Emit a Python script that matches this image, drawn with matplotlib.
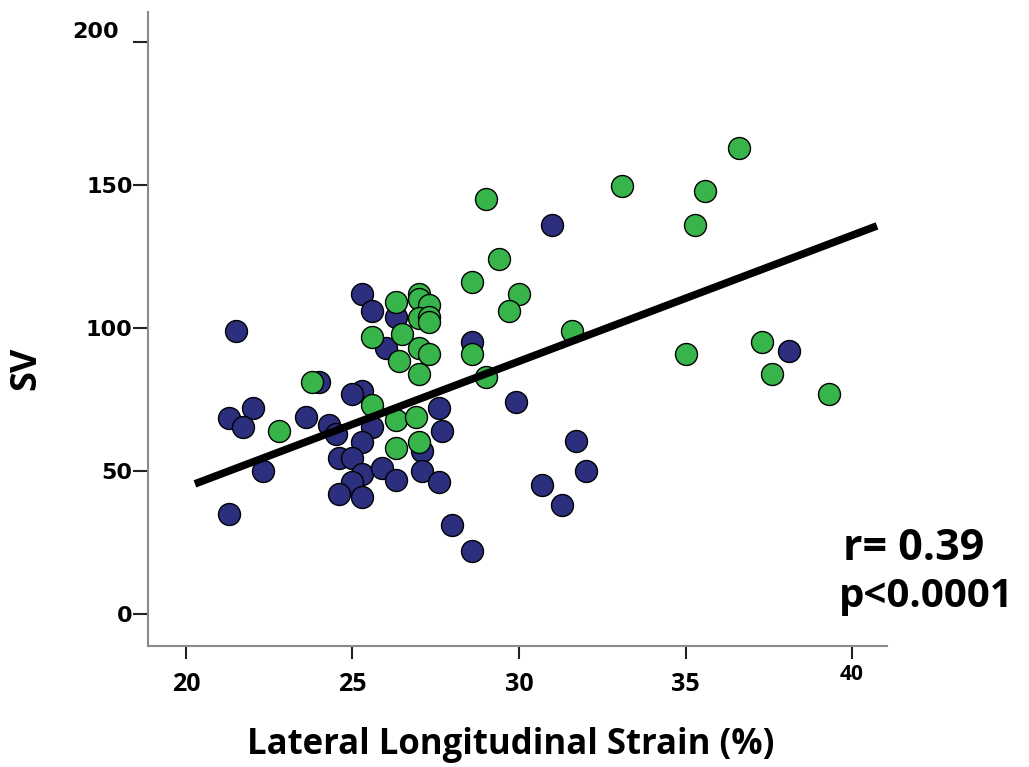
import matplotlib.pyplot as plt
import matplotlib.transforms as mtransforms

# Puntos azules (lateral strain %, SV)
blue_x = [31.0, 25.3, 21.5, 28.6, 38.1, 24.0, 29.9, 31.7, 32.0, 30.7, 31.3, 28.0,
          28.6, 21.3, 25.6, 26.3, 26.0, 25.3, 25.0, 22.0, 21.3, 21.7, 23.6, 24.3,
          24.5, 25.6, 27.6, 27.7, 25.3, 24.6, 25.0, 27.1, 22.3, 25.3, 25.9, 26.3,
          27.1, 27.6, 25.0, 24.6, 25.3]
blue_y = [136, 112, 99, 95, 92, 81, 74, 60.5, 50, 45, 38, 31,
          22, 35, 106, 104, 93, 78, 77, 72, 68.5, 65.5, 69, 66,
          63, 65.5, 72, 64, 60, 54.5, 54.5, 57, 50, 49, 51, 47,
          50, 46, 46, 42, 41]

# Puntos verdes
green_x = [36.6, 33.1, 35.6, 35.3, 29.0, 29.4, 30.0, 29.7, 28.6, 31.6, 35.0, 37.3,
           37.6, 39.3, 28.6, 29.0, 23.8, 22.8, 25.6, 26.3, 26.9, 26.3, 27.0, 26.3,
           27.0, 27.0, 27.3, 27.0, 27.3, 27.3, 25.6, 26.5, 27.0, 27.3, 26.4, 27.0]
green_y = [163, 149.7, 148, 136, 145, 124, 112, 106, 116, 99, 91, 95,
           84, 77, 91, 83, 81, 64, 73, 68, 69, 58, 60, 109,
           112, 110, 108, 103.5, 104, 102, 97, 98, 93, 91, 88.5, 84]

# Recta de regresion (extremos)
fit_x = [20.27, 40.75]
fit_y = [45.5, 135.7]

x_ticks = [20, 25, 30, 35, 40]
y_ticks = [0, 50, 100, 150, 200]

fig = plt.figure(figsize=(10.29, 7.67), dpi=100)
ax = fig.add_axes([0.1438, 0.1581, 0.7182, 0.8263])

ax.scatter(blue_x, blue_y, s=250, color='#2b2f7e', edgecolor='black',
           linewidth=1.0, zorder=3)
ax.scatter(green_x, green_y, s=250, color='#38b54a', edgecolor='black',
           linewidth=1.0, zorder=3)
ax.plot(fit_x, fit_y, color='black', linewidth=5.5, solid_capstyle='butt', zorder=4)

ax.set_xlim(18.86, 41.05)
ax.set_ylim(-11.1, 210.5)

for side in ['top', 'right']:
    ax.spines[side].set_visible(False)
for side in ['left', 'bottom']:
    ax.spines[side].set_color('#8a8a8a')
    ax.spines[side].set_linewidth(1.5)

# Etiquetas del eje x (el "40" va aparte, mas pequeno y mas alto)
ax.set_xticks(x_ticks)
ax.set_xticklabels([str(t) for t in x_ticks[:-1]] + [''], fontsize=18,
                   fontweight='bold', family='Open Sans')
ax.text(x_ticks[-1], -17.5, str(x_ticks[-1]), ha='center', va='top', fontsize=15,
        fontweight='bold', family='Open Sans')

# Etiquetas del eje y (el "200" va aparte, desplazado)
ax.set_yticks(y_ticks)
ax.set_yticklabels([str(t) for t in y_ticks[:-1]] + [''], fontsize=16,
                   fontweight='bold', family='DejaVu Sans')
trans = mtransforms.blended_transform_factory(ax.transAxes, ax.transData)
ax.text(-0.04, 203.5, str(y_ticks[-1]), transform=trans, ha='right', va='center',
        fontsize=16, fontweight='bold', family='DejaVu Sans')

ax.tick_params(axis='x', direction='out', length=9, width=1.5, color='#222222', pad=10)
ax.tick_params(axis='y', direction='out', length=11, width=1.5, color='#222222', pad=0)

ax.set_xlabel('Lateral Longitudinal Strain (%)', fontsize=25, fontweight='bold',
              family='Open Sans')
ax.xaxis.set_label_coords(0.491, -0.128)
ax.xaxis.label.set_va('top')
ax.set_ylabel('SV', fontsize=26, fontweight='bold', family='Open Sans')
ax.yaxis.set_label_coords(-0.14, 0.438)

fig.text(0.819, 0.270, 'r= 0.39', fontsize=31, fontweight='bold', family='Open Sans',
         va='baseline')
fig.text(0.815, 0.2086, 'p<0.0001', fontsize=29, fontweight='bold', family='Open Sans',
         va='baseline')

fig.savefig('out.png', dpi=100)
